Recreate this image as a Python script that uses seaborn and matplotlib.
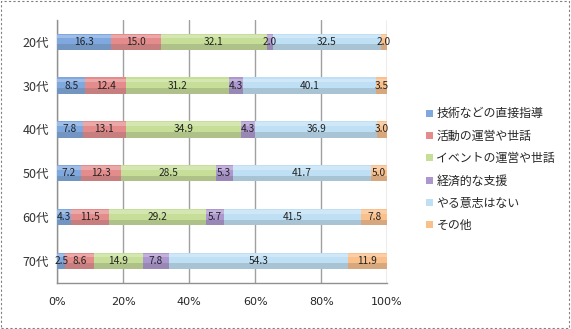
import numpy as np
import pandas as pd
import matplotlib
matplotlib.use("Agg")
import matplotlib.pyplot as plt
from matplotlib.patches import Rectangle
import seaborn as sns

ages = ["20代", "30代", "40代", "50代", "60代", "70代"]
series_names = ["技術などの直接指導", "活動の運営や世話", "イベントの運営や世話",
                "経済的な支援", "やる意志はない", "その他"]
direct = [16.3, 8.5, 7.8, 7.2, 4.3, 2.5]
activity = [15.0, 12.4, 13.1, 12.3, 11.5, 8.6]
event = [32.1, 31.2, 34.9, 28.5, 29.2, 14.9]
finance = [2.0, 4.3, 4.3, 5.3, 5.7, 7.8]
no_will = [32.5, 40.1, 36.9, 41.7, 41.5, 54.3]
other = [2.0, 3.5, 3.0, 5.0, 7.8, 11.9]
xticks = [0, 20, 40, 60, 80, 100]
xtick_labels = ["0%", "20%", "40%", "60%", "80%", "100%"]

colors = ["#7fa8de", "#e48c8c", "#c6de98", "#ad97cf", "#bfe0f4", "#f9c08c"]

sns.set_theme(style="white")
plt.rcParams["font.family"] = ["Noto Sans CJK JP", "DejaVu Sans"]

values = np.array([direct, activity, event, finance, no_will, other])
# normalise each age group to 100%
values = values / values.sum(axis=0) * 100
cum = np.cumsum(values, axis=0)

fig = plt.figure(figsize=(5.71, 3.29), dpi=100)
ax = fig.add_axes([0.1, 0.14, 0.578, 0.80])

# draw the cumulative totals back to front so each segment shows
for i in range(len(series_names) - 1, -1, -1):
    df = pd.DataFrame({"age": ages, "total": cum[i]})
    sns.barplot(data=df, x="total", y="age", order=ages, orient="h",
                color=colors[i], saturation=1, width=0.37, ax=ax,
                edgecolor="none", linewidth=0, zorder=3)

# shading on the lower edge of each bar
for j in range(len(ages)):
    ax.barh(j + 0.12, 100, height=0.13, left=0, color="#404040", alpha=0.18,
            linewidth=0, zorder=4)
    ax.barh(j - 0.12, 100, height=0.08, left=0, color="white", alpha=0.25,
            linewidth=0, zorder=4)

raw = np.array([direct, activity, event, finance, no_will, other])
for i in range(len(series_names)):
    for j in range(len(ages)):
        center = cum[i, j] - values[i, j] / 2
        ax.text(center, j, f"{raw[i, j]:.1f}", ha="center", va="center",
                fontsize=7.3, color="#222222", zorder=5)

ax.set_xlim(0, 100)
ax.set_ylim(5.5, -0.5)
ax.set_xticks(xticks)
ax.set_xticklabels(xtick_labels, fontsize=8, fontfamily="DejaVu Sans")
ax.set_ylabel("")
ax.set_xlabel("")
ax.tick_params(axis="y", labelsize=9, pad=6, length=0)
ax.tick_params(axis="x", pad=10, length=0)
for lab in ax.get_yticklabels():
    lab.set_color("#333333")
ax.grid(axis="x", color="#a0a0a0", linewidth=1, zorder=0)
ax.set_axisbelow(True)
for s in ["top", "right"]:
    ax.spines[s].set_visible(False)
for s in ["left", "bottom"]:
    ax.spines[s].set_color("#909090")
    ax.spines[s].set_linewidth(1)

handles = [Rectangle((0, 0), 1, 1, facecolor=c, edgecolor="none") for c in colors]
fig.legend(handles, series_names, loc="upper left", bbox_to_anchor=(0.738, 0.688),
           frameon=False, fontsize=8.6, handlelength=0.55, handleheight=0.55,
           handletextpad=0.3, labelspacing=0.78, borderaxespad=0)

border = Rectangle((0.002, 0.003), 0.995, 0.993, transform=fig.transFigure,
                   fill=False, edgecolor="#808080", linestyle=(0, (2, 2)),
                   linewidth=0.8)
fig.patches.append(border)

fig.savefig("out.png", dpi=100)
